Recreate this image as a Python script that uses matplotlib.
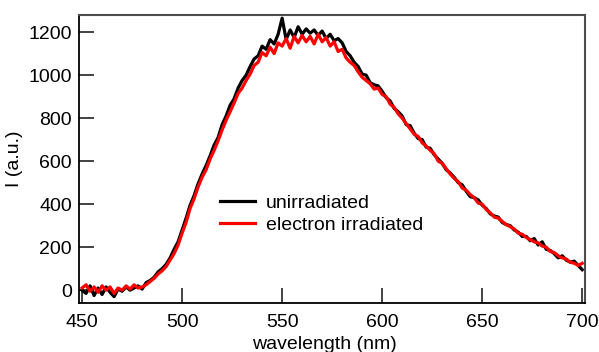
#!/usr/bin/env python3
"""Emission spectra: unirradiated vs electron irradiated."""
import matplotlib

matplotlib.use("Agg")
import matplotlib.pyplot as plt
import numpy as np

plt.rcParams["font.family"] = ["Liberation Sans", "DejaVu Sans"]

# sampling grid of the spectra (nm)
wavelength = np.arange(450, 701, 2)

unirradiated = [
    0, -15, 20, -25, 10, -20, 15, -10, -30, 5,
    -5, 15, 0, 10, 20, 5, 35, 45, 60, 85,
    100, 120, 150, 190, 225, 280, 335, 395, 440, 495,
    540, 580, 625, 675, 710, 770, 810, 860, 890, 940,
    975, 1000, 1040, 1075, 1090, 1135, 1120, 1165, 1145, 1190,
    1265, 1165, 1210, 1175, 1225, 1190, 1215, 1195, 1210, 1185,
    1205, 1170, 1190, 1160, 1170, 1150, 1110, 1090, 1060, 1040,
    1005, 1000, 965, 955, 950, 925, 895, 880, 845, 830,
    810, 770, 765, 730, 705, 700, 665, 660, 630, 610,
    590, 560, 545, 525, 500, 490, 460, 435, 430, 420,
    395, 380, 355, 345, 340, 315, 305, 300, 280, 270,
    250, 250, 230, 240, 210, 225, 190, 185, 170, 150,
    160, 140, 130, 135, 115, 95,
]

electron_irradiated = [
    10, 25, -5, 15, -10, 20, 0, 15, -15, 10,
    0, 20, 5, 25, 10, 15, 25, 40, 55, 75,
    90, 110, 140, 170, 210, 265, 315, 380, 425, 480,
    525, 560, 610, 650, 695, 745, 790, 830, 870, 915,
    940, 975, 1005, 1045, 1060, 1105, 1090, 1130, 1100, 1150,
    1135, 1170, 1125, 1180, 1150, 1185, 1155, 1180, 1145, 1190,
    1155, 1175, 1135, 1155, 1110, 1120, 1080, 1060, 1045, 1015,
    990, 975, 960, 935, 940, 910, 900, 865, 850, 820,
    800, 775, 750, 725, 715, 685, 670, 650, 635, 600,
    590, 565, 540, 520, 505, 475, 465, 445, 430, 405,
    400, 375, 360, 340, 335, 320, 305, 295, 285, 265,
    260, 245, 235, 225, 220, 205, 200, 180, 175, 160,
    150, 145, 130, 125, 115, 125,
]

x_ticks = [450, 500, 550, 600, 650, 700]
y_ticks = [0, 200, 400, 600, 800, 1000, 1200]


fig = plt.figure(figsize=(5.99, 3.52), dpi=100)
ax = fig.add_axes([0.132, 0.139, 0.845, 0.818])

ax.plot(wavelength, unirradiated, color="black", linewidth=2.3, label="unirradiated")
ax.plot(wavelength, electron_irradiated, color="#ff0000", linewidth=2.3, label="electron irradiated")

ax.set_xlim(448.5, 701.5)
ax.set_ylim(-60, 1279)
ax.set_xticks(x_ticks)
ax.set_yticks(y_ticks)
ax.tick_params(direction="in", length=10.8, width=1.2, labelsize=14, color="#222222")
ax.tick_params(axis="y", pad=5)
ax.tick_params(axis="x", pad=8)

for side in ("left", "bottom"):
    ax.spines[side].set_color("black")
    ax.spines[side].set_linewidth(1.3)
for side in ("top", "right"):
    ax.spines[side].set_color("#4d4d4d")
    ax.spines[side].set_linewidth(1.5)

ax.set_xlabel("wavelength (nm)", fontsize=14, labelpad=1)
ax.xaxis.set_label_coords(0.484, -0.115, transform=ax.transAxes)
ax.xaxis.label.set_va("top")
ax.set_ylabel("I (a.u.)", fontsize=14, labelpad=4)

ax.legend(
    loc="center left", bbox_to_anchor=(0.279, 0.309), frameon=False,
    fontsize=14, handlelength=1.8, handletextpad=0.55, labelspacing=0.2,
    borderpad=0, borderaxespad=0,
)

fig.savefig("out.png", dpi=100)
